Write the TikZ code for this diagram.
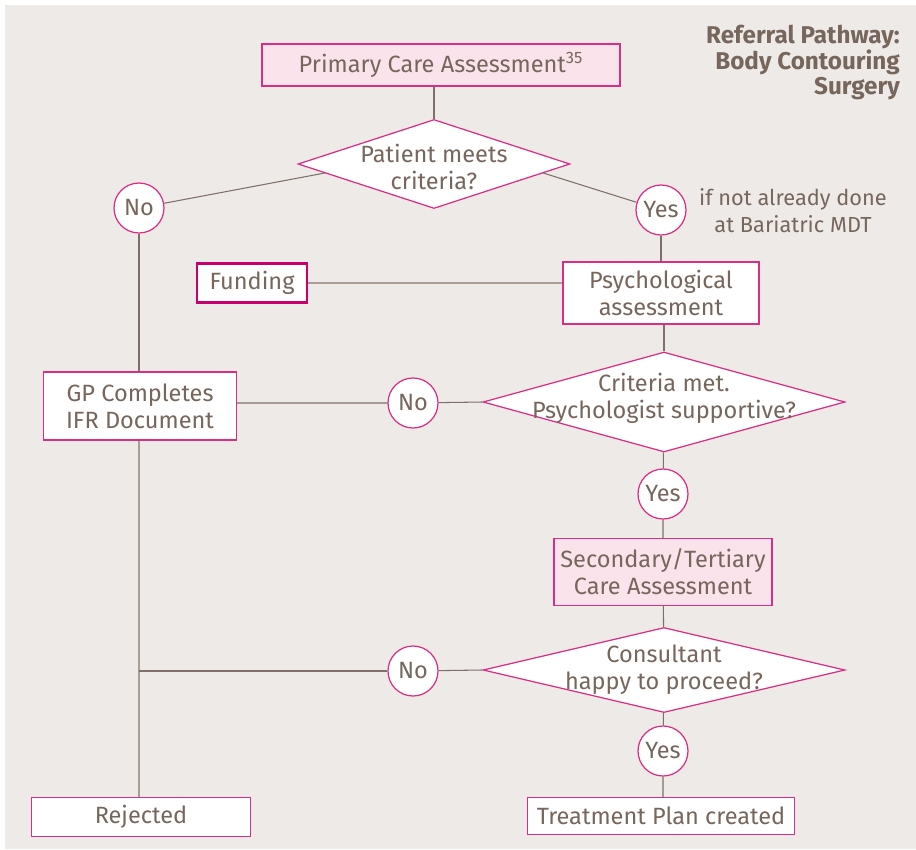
\documentclass[tikz,border=0pt]{standalone}
\usepackage{fontspec}
\setmainfont{Fira Sans}
\usetikzlibrary{shapes.geometric,calc}
\definecolor{bggrey}{HTML}{EEEAE7}
\definecolor{rimpink}{HTML}{DA2D86}
\definecolor{fundrim}{HTML}{C8006F}
\definecolor{pinkfill}{HTML}{FAE3EA}
\definecolor{inkbrown}{HTML}{76665C}
\definecolor{wirebrown}{HTML}{7E7068}
\definecolor{wirepale}{HTML}{A99D96}
\tikzset{
    txt/.style={text=inkbrown, font=\fontsize{13.4}{15.3}\selectfont, align=center},
    whitebox/.style={txt, draw=rimpink, fill=white, inner sep=0pt, line width=0.7pt},
    pinkbox/.style={whitebox, fill=pinkfill},
    fundbox/.style={whitebox, draw=fundrim, line width=1.4pt},
    decision/.style={diamond, draw=rimpink, fill=white, inner sep=0pt, line width=0.7pt},
    answer/.style={txt, circle, draw=rimpink, fill=white, inner sep=0pt, minimum size=1cm, line width=0.7pt},
    wire/.style={draw=wirebrown, line width=0.6pt},
    palewire/.style={draw=wirepale, line width=0.6pt}
}
\begin{document}
\begin{tikzpicture}[x=0.02cm, y=-0.02cm]
            \useasboundingbox (0,0) rectangle (916,849);
            \fill[bggrey] (5,5) rectangle (916,849);

            \node[txt, font=\fontsize{13.8}{14.6}\selectfont\bfseries, align=right, anchor=north east] (heading) at (906,19) {Referral Pathway:\\Body Contouring\\Surgery};

            \node[pinkbox, minimum width=7.16cm, minimum height=0.84cm] (primary) at (441,65) {Primary Care Assessment\textsuperscript{35}};
            \node[decision, minimum width=5.44cm, minimum height=1.78cm,
                label={[txt, yshift=-1.5pt]center:Patient meets\\criteria?}] (meets) at (434,164) {};
            \node[answer] (no1) at (139,208) {No};
            \node[answer] (yes1) at (661,210) {Yes};
            \node[txt, font=\fontsize{12.4}{15.3}\selectfont] (note) at (793,211) {if not already done\\at Bariatric MDT};

            \node[fundbox, minimum width=2.2cm, minimum height=0.78cm] (funding) at (252,283) {Funding};
            \node[whitebox, minimum width=3.92cm, minimum height=1.24cm] (psych) at (661,293) {Psychological\\assessment};
            \node[whitebox, minimum width=3.86cm, minimum height=1.36cm] (gp) at (140,406) {GP Completes\\IFR Document};
            \node[answer] (no2) at (413,403) {No};
            \node[decision, minimum width=7.24cm, minimum height=2cm,
                label={[txt, yshift=2pt]center:Criteria met.\\Psychologist supportive?}] (criteria) at (664,402) {};
            \node[answer] (yes2) at (663,494) {Yes};

            \node[pinkbox, minimum width=4.36cm, minimum height=1.34cm] (secondary) at (663,572) {Secondary/Tertiary\\Care Assessment};
            \node[decision, minimum width=7.24cm, minimum height=1.7cm,
                label={[txt]center:Consultant\\happy to proceed?}] (consultant) at (664,670) {};
            \node[answer] (no3) at (413,671) {No};
            \node[answer] (yes3) at (663,751) {Yes};

            \node[whitebox, minimum width=5.34cm, minimum height=0.74cm] (treatment) at (661,816) {Treatment Plan created};
            \node[whitebox, minimum width=4.38cm, minimum height=0.78cm] (rejected) at (141,817) {Rejected};

            \draw[wire] (meets.north |- primary.south) -- (meets.north);
            \draw[wire] (no1) -- ($(meets.west)!0.2!(meets.south)$);
            \draw[wire] (yes1) -- ($(meets.east)!0.2!(meets.south)$);
            \draw[wire] (no1) -- (no1 |- gp.north);
            \draw[wire] (yes1) -- (psych);
            \draw[palewire] (funding.east) -- (funding.east -| psych.west);
            \draw[wire] ($(funding.south west)+(10,0)$) -- ($(funding.south west)+(10,0)$ |- gp.north);
            \draw[wire] (psych.south -| criteria.north) -- (criteria.north);
            \draw[wire] (no2 -| gp.east) -- (no2) -- (criteria.west);
            \draw[wire] (criteria) -- (yes2) -- (secondary) -- (consultant);
            \draw[wire] (consultant) -- (yes3) -- (yes3 |- treatment.north);
            \draw[palewire] (no1 |- gp.south) -- (no1 |- rejected.north);
            \draw[wire] (no3) -- (no3 -| no1);
            \draw[wire] (consultant.west) -- (no3);
\end{tikzpicture}
\end{document}
